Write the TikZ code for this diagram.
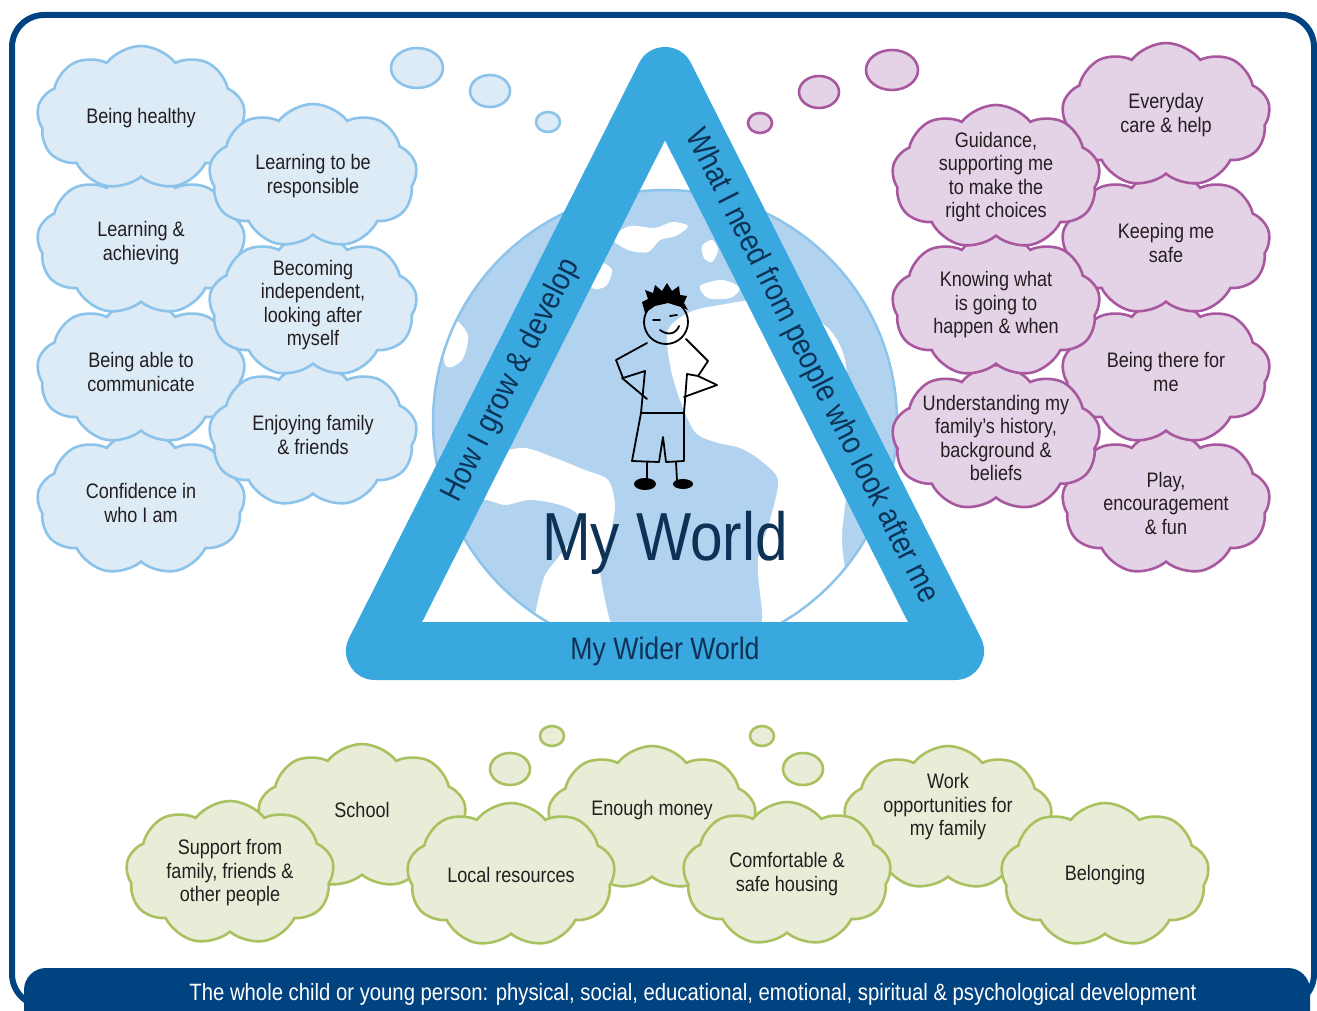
\documentclass[tikz,border=0pt]{standalone}
\usepackage{fontspec}
\setmainfont{Liberation Sans}[FakeStretch=0.86]
\usetikzlibrary{shapes.symbols,shapes.geometric}
\definecolor{framenavy}{RGB}{0,67,128}
\definecolor{triblue}{RGB}{56,168,223}
\definecolor{globeblue}{RGB}{177,211,240}
\definecolor{globeline}{RGB}{142,196,234}
\definecolor{bluefill}{RGB}{221,235,247}
\definecolor{bluestroke}{RGB}{140,195,234}
\definecolor{pinkfill}{RGB}{228,211,231}
\definecolor{pinkstroke}{RGB}{168,88,158}
\definecolor{greenfill}{RGB}{233,237,216}
\definecolor{greenstroke}{RGB}{169,193,95}
\definecolor{inkdark}{RGB}{35,31,32}
\definecolor{inknavy}{RGB}{14,50,86}

\begin{document}
\begin{tikzpicture}[x=1pt, y=-1pt,
    cloudbox/.style={cloud, cloud puffs=9, cloud puff arc=105, aspect=1.4,
                     minimum width=208pt, minimum height=144pt, inner sep=-12pt,
                     line width=2.6pt, align=center, text=inkdark,
                     font=\fontsize{21}{23.5}\selectfont},
    bluecloud/.style={cloudbox, draw=bluestroke, fill=bluefill},
    pinkcloud/.style={cloudbox, draw=pinkstroke, fill=pinkfill},
    greencloud/.style={cloudbox, draw=greenstroke, fill=greenfill},
    bubble/.style={ellipse, inner sep=0pt, line width=2.6pt},
    bigbub/.style={bubble, minimum width=52pt, minimum height=40pt},
    midbub/.style={bubble, minimum width=40pt, minimum height=32pt},
    smallbub/.style={bubble, minimum width=24pt, minimum height=20pt},
    band/.style={draw=triblue, line width=58pt, line join=round},
    bandtext/.style={text=inknavy, font=\fontsize{32}{34}\selectfont, inner sep=0pt},
    kid/.style={black, line width=1.8pt, line join=round, line cap=round}
]
\useasboundingbox (0,0) rectangle (1317,1011);

% frame and footer bar
\draw[framenavy, line width=6pt, rounded corners=32pt] (12,15) rectangle (1314,1006);
\fill[framenavy, rounded corners=22pt] (24,968) rectangle (1310,1040);
\node[text=white, font=\fontsize{23.6}{25}\selectfont] (whole) at (693,994)
  {The whole child or young person: physical, social, educational, emotional, spiritual \& psychological development};

% globe
\begin{scope}
  \clip (665,422) circle[radius=232];
  \fill[globeblue] (665,422) circle[radius=232];
  % oceans
  \fill[white] plot[smooth cycle] coordinates {(440,470) (470,448) (495,452) (525,448)
    (555,458) (585,470) (608,480) (615,505) (610,535) (600,565) (605,600) (615,640)
    (625,665) (430,665)};
  \fill[white] plot[smooth cycle] coordinates {(668,330) (690,312) (720,305) (760,300)
    (800,310) (830,330) (845,360) (850,420) (848,480) (842,540) (850,600) (860,665)
    (770,665) (762,610) (758,560) (770,520) (778,480) (760,460) (740,448) (715,442)
    (695,432) (680,400) (670,365)};
  % south america
  \fill[globeblue] plot[smooth cycle] coordinates {(478,500) (505,505) (530,500)
    (560,505) (578,515) (575,535) (560,555) (545,575) (538,600) (530,635) (515,665)
    (470,665) (462,590) (466,530)};
  % arctic and small seas
  \fill[white] plot[smooth cycle] coordinates {(612,238) (630,226) (655,228) (672,222)
    (688,226) (676,236) (660,240) (648,252) (628,250)};
  \fill[white] plot[smooth cycle] coordinates {(702,246) (712,240) (718,250) (712,262) (704,258)};
  \fill[white] plot[smooth cycle] coordinates {(586,268) (600,262) (612,270) (606,286) (592,288)};
  \fill[white] plot[smooth cycle] coordinates {(472,232) (486,226) (494,236) (484,246) (474,244)};
  \fill[white] plot[smooth cycle] coordinates {(440,330) (455,320) (468,336) (462,360) (446,366)};
  \fill[white] plot[smooth cycle] coordinates {(700,286) (722,280) (740,288) (730,298) (708,298)};
\end{scope}
\draw[globeline, line width=2.5pt] (665,422) circle[radius=232];

% stick figure
\begin{scope}[kid]
  \fill (645,313) -- (642,302) -- (648,299) -- (645,290) -- (653,293) -- (655,285)
    -- (662,291) -- (667,283) -- (672,291) -- (679,286) -- (680,295) -- (687,296)
    -- (684,303) -- (688,310) -- (681,307) -- (668,303) -- (655,306) -- cycle;
  \draw (666,322) circle[radius=22];
  \draw (653,320) -- (660,320);
  \draw (670,316) -- (677,315);
  \draw (660,330) .. controls (668,336) and (676,334) .. (679,326);
  \draw (647,343) -- (616,360) -- (623,378) -- (645,371) -- (641,413) -- (684,413)
    -- (687,374) -- (698,376) -- (708,361) -- (686,339);
  \draw (622,378) -- (647,399);
  \draw (698,376) -- (717,385) -- (684,397);
  \draw (641,413) -- (632,461) -- (659,462) -- (663,437) -- (666,462) -- (684,461) -- (684,413);
  \draw (647,462) -- (647,481);
  \draw (676,462) -- (677,481);
  \fill (645,484) ellipse[x radius=11, y radius=6];
  \fill (683,484) ellipse[x radius=10, y radius=5];
\end{scope}

% triangle
\coordinate (apex) at (665,76);
\coordinate (lft) at (375,651);
\coordinate (rgt) at (955,651);
\draw[band] (lft) -- (apex) -- (rgt) -- cycle;
\path (lft) -- (apex) node[bandtext, sloped, pos=0.47] (grow) {How I grow \& develop};
\path (apex) -- (rgt) node[bandtext, sloped, pos=0.505] (need) {What I need from people who look after me};
\node[bandtext, font=\fontsize{31}{33}\selectfont] (wider) at (665,651) {My Wider World};
\node[text=inknavy, font=\fontsize{68}{70}\selectfont] (myworld) at (665,543) {My World};

% thought bubbles
\node[bigbub, draw=bluestroke, fill=bluefill] (bb1) at (417,68) {};
\node[midbub, draw=bluestroke, fill=bluefill] (bb2) at (490,91) {};
\node[smallbub, draw=bluestroke, fill=bluefill] (bb3) at (548,122) {};
\node[bigbub, draw=pinkstroke, fill=pinkfill] (pb1) at (892,70) {};
\node[midbub, draw=pinkstroke, fill=pinkfill] (pb2) at (819,92) {};
\node[smallbub, draw=pinkstroke, fill=pinkfill] (pb3) at (760,123) {};
\node[midbub, draw=greenstroke, fill=greenfill] (gb1) at (510,769) {};
\node[smallbub, draw=greenstroke, fill=greenfill] (gb2) at (552,736) {};
\node[midbub, draw=greenstroke, fill=greenfill] (gb3) at (803,769) {};
\node[smallbub, draw=greenstroke, fill=greenfill] (gb4) at (762,736) {};

% how I grow
\node[bluecloud] (conf) at (141,503) {Confidence in\\who I am};
\node[bluecloud] (comm) at (141,372) {Being able to\\communicate};
\node[bluecloud] (achv) at (141,243) {Learning \&\\achieving};
\node[bluecloud] (heal) at (141,118) {Being healthy};
\node[bluecloud] (enjoy) at (313,435) {Enjoying family\\\& friends};
\node[bluecloud] (indep) at (313,305) {Becoming\\independent,\\looking after\\myself};
\node[bluecloud] (resp) at (313,176) {Learning to be\\responsible};

% what I need
\node[pinkcloud] (play) at (1166,503) {Play,\\encouragement\\\& fun};
\node[pinkcloud] (there) at (1166,372) {Being there for\\me};
\node[pinkcloud] (safe) at (1166,243) {Keeping me\\safe};
\node[pinkcloud] (care) at (1166,115) {Everyday\\care \& help};
\node[pinkcloud] (hist) at (996,438) {Understanding my\\family’s history,\\background \&\\beliefs};
\node[pinkcloud] (know) at (996,305) {Knowing what\\is going to\\happen \& when};
\node[pinkcloud] (guide) at (996,177) {Guidance,\\supporting me\\to make the\\right choices};

% wider world (back row text sits a little high)
\node[greencloud, text depth=12pt] (school) at (362,816) {School};
\node[greencloud, text depth=20pt] (money) at (652,818) {Enough money};
\node[greencloud, text depth=27pt] (work) at (948,818) {Work\\opportunities for\\my family};
\node[greencloud] (support) at (230,873) {Support from\\family, friends \&\\other people};
\node[greencloud] (local) at (511,875) {Local resources};
\node[greencloud] (house) at (787,874) {Comfortable \&\\safe housing};
\node[greencloud] (belong) at (1105,875) {Belonging};
\end{tikzpicture}
\end{document}
